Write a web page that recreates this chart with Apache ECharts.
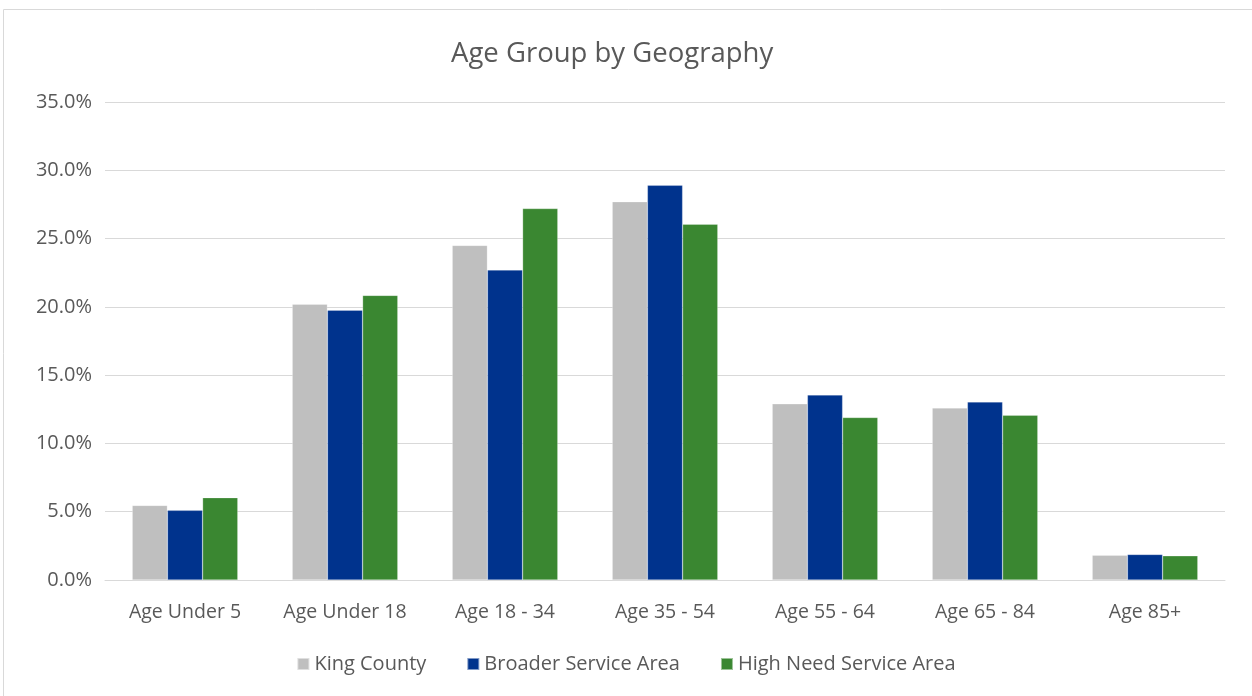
<!DOCTYPE html>
<html><head><meta charset="utf-8">
<script src="https://cdn.jsdelivr.net/npm/echarts@6/dist/echarts.min.js"></script>
<style>html,body{margin:0;padding:0;background:#fff}#c{width:1252px;height:696px}</style>
</head><body><div id="c"></div>
<script>
const categories = ['Age Under 5','Age Under 18','Age 18 - 34','Age 35 - 54','Age 55 - 64','Age 65 - 84','Age 85+'];
const kingCounty = [5.46, 20.2, 24.5, 27.7, 12.9, 12.6, 1.82];
const broaderArea = [5.1, 19.76, 22.7, 28.9, 13.55, 13.04, 1.87];
const highNeedArea = [6.03, 20.84, 27.2, 26.05, 11.9, 12.06, 1.77];
const seriesNames = ['King County','Broader Service Area','High Need Service Area'];
const colors = ['#BFBFBF','#00338D','#3A8731'];
const font = 'Open Sans';
const chart = echarts.init(document.getElementById('c'));
chart.setOption({
  animation:false,
  title:{text:'Age Group by Geography',left:446,top:35,textStyle:{fontFamily:font,fontSize:27.5,fontWeight:'normal',color:'#595959'}},
  graphic:[{type:'rect',shape:{x:3.5,y:9.5,width:1260,height:700},style:{fill:'none',stroke:'#d9d9d9',lineWidth:1},silent:true}],
  legend:{bottom:17,left:'center',itemWidth:12,itemHeight:12,itemGap:40,icon:'rect',textStyle:{fontFamily:font,fontSize:20,color:'#595959'}},
  grid:{left:105,right:27,top:102,bottom:116},
  xAxis:{type:'category',data:categories,axisLine:{lineStyle:{color:'#d9d9d9'}},axisTick:{show:false},axisLabel:{interval:0,fontFamily:font,fontSize:19.5,color:'#595959',margin:22}},
  yAxis:{type:'value',min:0,max:35,interval:5,axisLine:{show:false},axisTick:{show:false},splitLine:{lineStyle:{color:'#d9d9d9',width:1}},axisLabel:{fontFamily:font,fontSize:20,color:'#595959',margin:13,formatter:v=>v.toFixed(1)+'%'}},
  series:[kingCounty,broaderArea,highNeedArea].map((d,i)=>({name:seriesNames[i],type:'bar',data:d,barGap:'0%',barCategoryGap:'34%',itemStyle:{color:colors[i],borderColor:'rgba(255,255,255,0.5)',borderWidth:0.5}}))
});
</script></body></html>
